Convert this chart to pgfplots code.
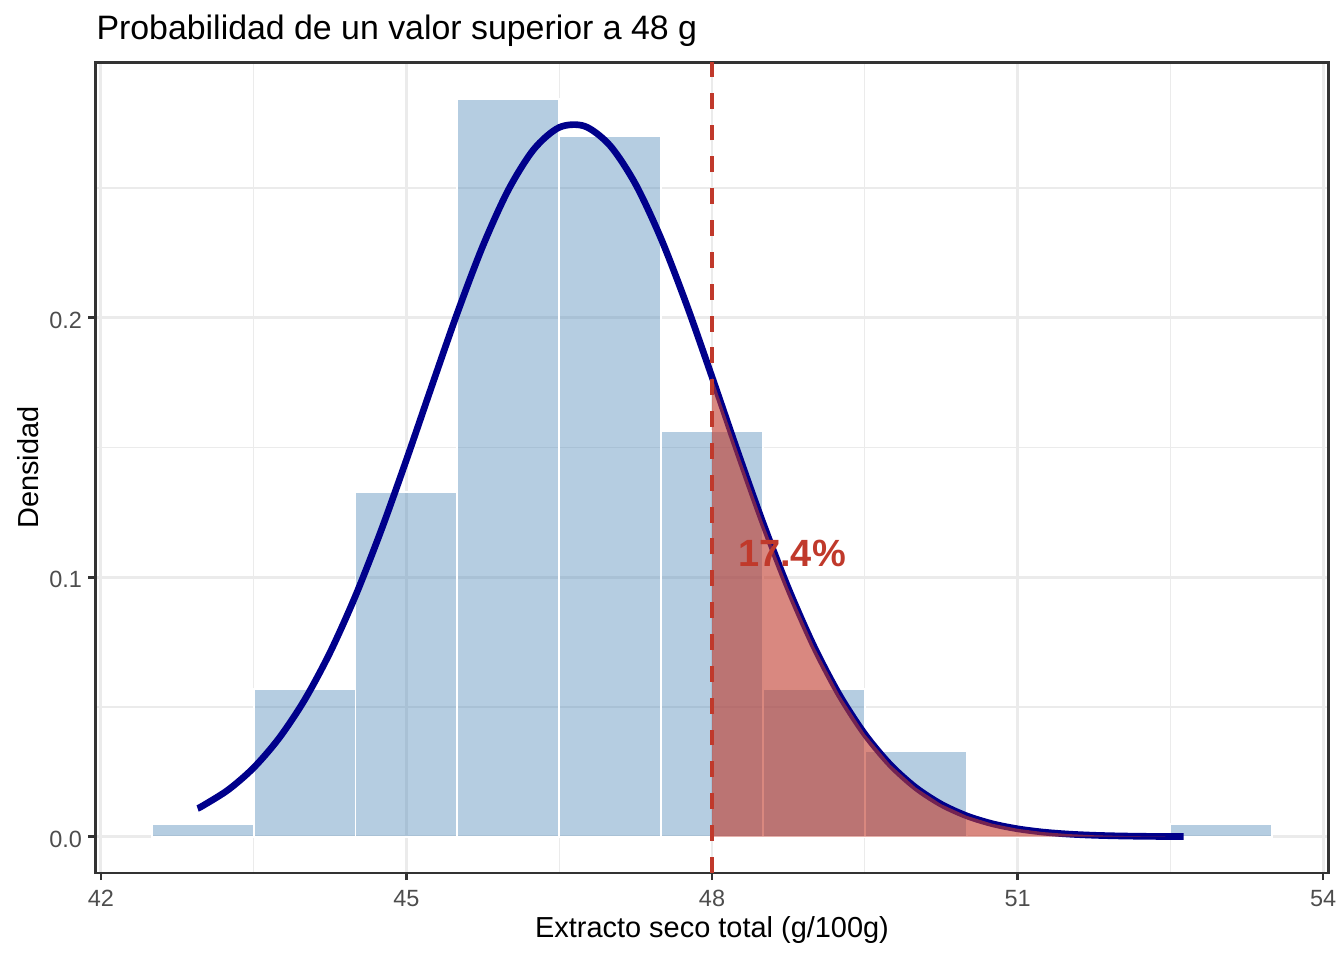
\documentclass[border=0pt]{standalone}
\usepackage{pgfplots}
\pgfplotsset{compat=1.18}
\usepackage{fontspec}
\setmainfont{Liberation Sans}
\definecolor{barfill}{HTML}{4682B4}
\definecolor{redc}{HTML}{C0392B}
\definecolor{curvec}{HTML}{00008B}
\definecolor{gridc}{HTML}{EBEBEB}
\definecolor{grey20}{HTML}{333333}
\definecolor{grey30}{HTML}{4D4D4D}
\begin{document}
\begin{tikzpicture}
\path[use as bounding box] (0,0) rectangle (504bp,360bp);
\begin{axis}[
  at={(35.9bp,32.7bp)}, anchor=south west,
  width=462.2bp, height=303.9bp, scale only axis,
  xmin=41.95, xmax=54.05, ymin=-0.0139, ymax=0.2984,
  xtick={42,45,48,51,54},
  xticklabels={42,45,48,51,54},
  ytick={0,0.1,0.2},
  yticklabels={0.0,0.1,0.2},
  minor xtick={43.5,46.5,49.5,52.5},
  minor ytick={0.05,0.15,0.25},
  scaled ticks=false,
  grid=both,
  major grid style={gridc, line width=1.0bp},
  minor grid style={gridc, line width=0.5bp},
  minor tick length=0pt,
  major tick length=2.74bp,
  tick align=outside,
  tick pos=left,
  axis line style={grey20, line width=0.95bp},
  every tick/.style={grey20, line width=0.95bp},
  tick label style={font=\fontsize{8.8bp}{10bp}\selectfont, text=grey30},
  xticklabel style={anchor=base, inner sep=0pt, yshift=-10.06bp},
  yticklabel style={anchor=east, inner sep=0pt, xshift=-2.2bp, yshift=-0.86bp},
  /pgf/number format/assume math mode=true,
  clip=true,
]
% histogram (density)
\addplot[ybar interval, fill=barfill, fill opacity=0.4, draw=white, line width=0.7bp] coordinates {
  (42.5,0.00474) (43.5,0.0569) (44.5,0.1327) (45.5,0.2844) (46.5,0.2701)
  (47.5,0.1564) (48.5,0.0569) (49.5,0.0332) (50.5,0) (51.5,0)
  (52.5,0.00474) (53.5,0.00474)
};
% normal density curve
\addplot[curvec, line width=2.5bp, line join=round, line cap=butt, smooth] coordinates {
  (42.95,0.01092) (43.0,0.01191) (43.25,0.01806) (43.5,0.02658) (43.75,0.03799)
  (44.0,0.05270) (44.25,0.07099) (44.5,0.09283) (44.75,0.11784) (45.0,0.14523)
  (45.25,0.17377) (45.5,0.20185) (45.75,0.22763) (46.0,0.24921) (46.25,0.26488)
  (46.5,0.27333) (46.75,0.27381) (47.0,0.26630) (47.25,0.25143)
  (47.5,0.23048) (47.75,0.20510) (48.0,0.17720) (48.25,0.14862) (48.5,0.12102)
  (48.75,0.09568) (49.0,0.07343) (49.25,0.05471) (49.5,0.03957) (49.75,0.02779)
  (50.0,0.01895) (50.25,0.01254) (50.5,0.00806) (50.75,0.00503) (51.0,0.00305)
  (51.25,0.00179) (51.5,0.00102) (51.75,0.000566) (52.0,0.000305) (52.25,0.000159)
  (52.5,0.0000807) (52.63,0.00006)
};
% shaded tail area
\addplot[fill=redc, fill opacity=0.6, draw=none] coordinates {
  (48.0,0) (48.0,0.17720) (48.25,0.14862) (48.5,0.12102)
  (48.75,0.09568) (49.0,0.07343) (49.25,0.05471) (49.5,0.03957) (49.75,0.02779)
  (50.0,0.01895) (50.25,0.01254) (50.5,0.00806) (50.75,0.00503) (51.0,0.00305)
  (51.25,0.00179) (51.5,0.00102) (51.75,0.000566) (52.0,0.000305) (52.25,0.000159)
  (52.45,0.0001) (52.45,0)
} -- cycle;
% vertical dashed line at 48
\addplot[redc, line width=1.5bp, dash pattern=on 5.97bp off 5.97bp, line cap=butt] coordinates {(48,-0.0139) (48,0.2984)};
\node[text=redc, font=\bfseries\fontsize{14.23bp}{16bp}\selectfont, inner sep=0pt, anchor=center] at (axis cs:48.785,0.1093) {17.4\%};
\end{axis}
\node[anchor=base west, inner sep=0pt, font=\fontsize{12.7bp}{15bp}\selectfont] at (36bp,345bp) {Probabilidad de un valor superior a 48 g};
\node[anchor=base, inner sep=0pt, font=\fontsize{10.85bp}{13bp}\selectfont] at (267bp,8.6bp) {Extracto seco total (g/100g)};
\node[anchor=base, rotate=90, inner sep=0pt, font=\fontsize{10.85bp}{13bp}\selectfont] at (14.25bp,184.7bp) {Densidad};
\end{tikzpicture}
\end{document}
